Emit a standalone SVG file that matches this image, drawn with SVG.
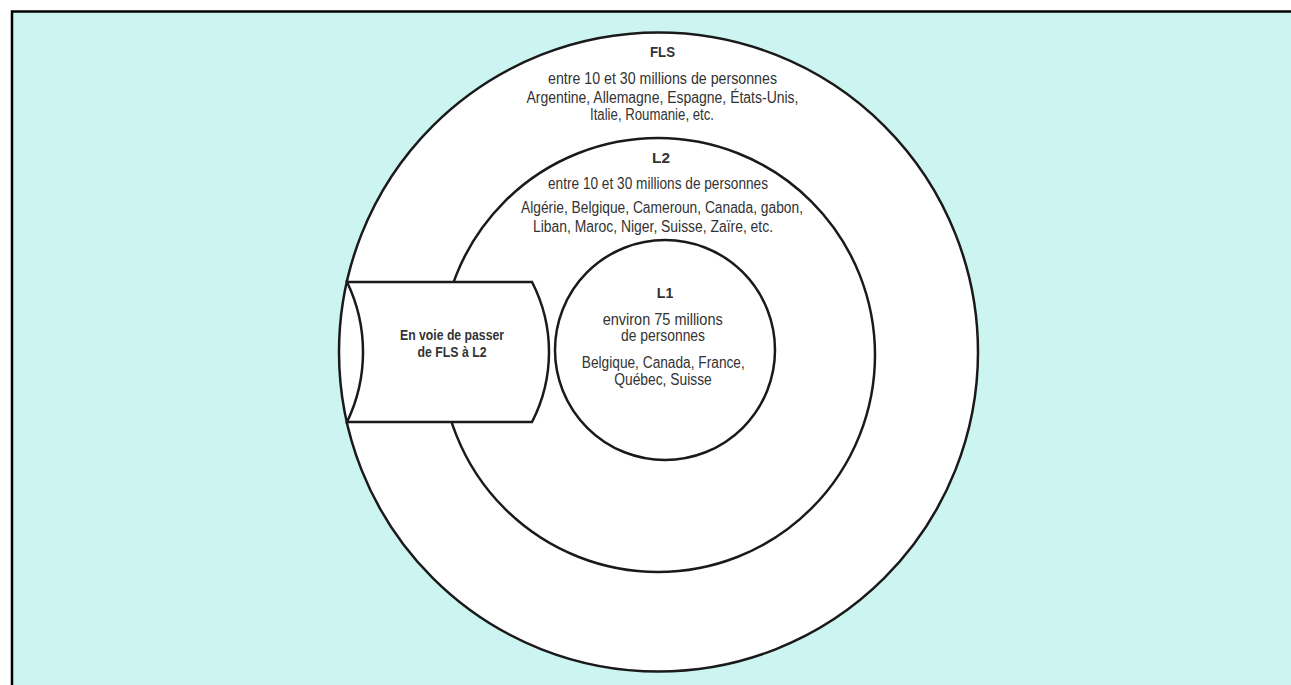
<svg xmlns="http://www.w3.org/2000/svg" width="1291" height="685" viewBox="0 0 1291 685">
  <style>
    .ring { fill: #ffffff; stroke: #1a1a1a; stroke-width: 2.5; }
    .t { font-family: "Liberation Sans", Arial, sans-serif; font-size: 16px; fill: #333333; text-anchor: middle; }
    .b { font-family: "Liberation Sans", Arial, sans-serif; font-size: 15px; font-weight: bold; fill: #333333; text-anchor: middle; }
  </style>
  <rect x="0" y="0" width="1291" height="685" fill="#ffffff"/>
  <rect id="frame" x="12" y="11.5" width="1300" height="700" fill="#CCF5F2" stroke="#000000" stroke-width="2.5"/>

  <g id="fls">
    <circle class="ring" cx="658.5" cy="352" r="319.5"/>
    <text class="b" x="662.5" y="56.5" textLength="25" lengthAdjust="spacingAndGlyphs">FLS</text>
    <text class="t" x="662.5" y="84.3" textLength="229" lengthAdjust="spacingAndGlyphs">entre 10 et 30 millions de personnes</text>
    <text class="t" x="662.5" y="102.7" textLength="272" lengthAdjust="spacingAndGlyphs">Argentine, Allemagne, Espagne, États-Unis,</text>
    <text class="t" x="652" y="120" textLength="124" lengthAdjust="spacingAndGlyphs">Italie, Roumanie, etc.</text>
  </g>

  <g id="l2">
    <circle class="ring" cx="658" cy="355" r="217"/>
    <text class="b" x="661" y="163.3" textLength="18" lengthAdjust="spacingAndGlyphs">L2</text>
    <text class="t" x="658" y="189.3" textLength="220" lengthAdjust="spacingAndGlyphs">entre 10 et 30 millions de personnes</text>
    <text class="t" x="662" y="213.3" textLength="282" lengthAdjust="spacingAndGlyphs">Algérie, Belgique, Cameroun, Canada, gabon,</text>
    <text class="t" x="653" y="231.7" textLength="240" lengthAdjust="spacingAndGlyphs">Liban, Maroc, Niger, Suisse, Zaïre, etc.</text>
  </g>

  <g id="l1">
    <circle class="ring" cx="665" cy="350" r="110"/>
    <text class="b" x="665" y="298.3" textLength="16.5" lengthAdjust="spacingAndGlyphs">L1</text>
    <text class="t" x="662.7" y="325" textLength="120" lengthAdjust="spacingAndGlyphs">environ 75 millions</text>
    <text class="t" x="663" y="341.3" textLength="84" lengthAdjust="spacingAndGlyphs">de personnes</text>
    <text class="t" x="663.3" y="368.3" textLength="163" lengthAdjust="spacingAndGlyphs">Belgique, Canada, France,</text>
    <text class="t" x="663" y="385" textLength="97.5" lengthAdjust="spacingAndGlyphs">Québec, Suisse</text>
  </g>

  <g id="transition">
    <path class="ring" d="M347,282 L532,282 A152.6,152.6 0 0 1 532,422 L347,422 A161,161 0 0 0 347,282 Z"/>
    <text class="b" x="452" y="340" textLength="104" lengthAdjust="spacingAndGlyphs">En voie de passer</text>
    <text class="b" x="452" y="356.7" textLength="69" lengthAdjust="spacingAndGlyphs">de FLS à L2</text>
  </g>

  <g id="connectors"></g>
</svg>
